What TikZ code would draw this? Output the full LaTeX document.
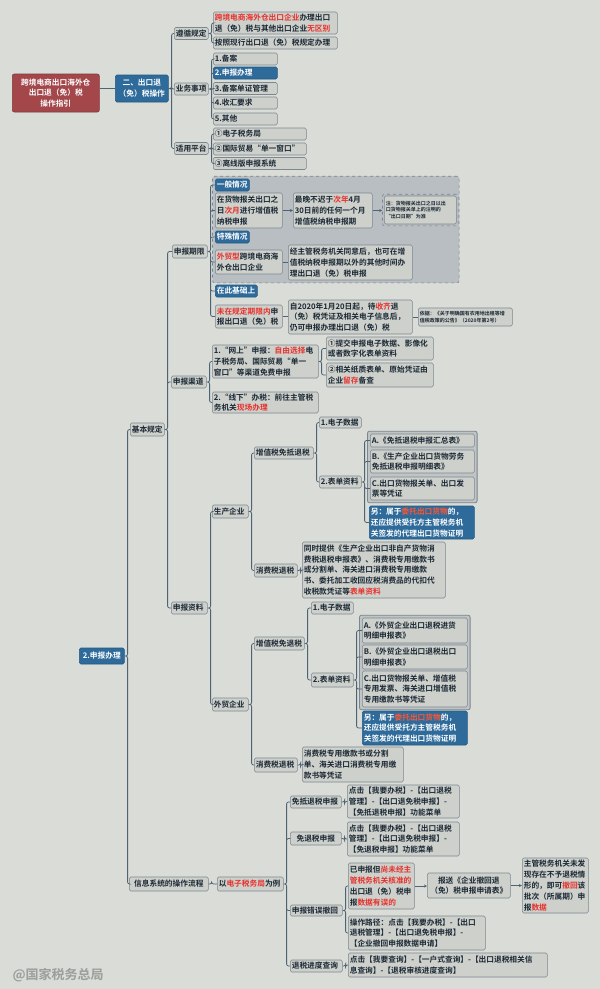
\documentclass[tikz,border=0pt]{standalone}
\usepackage{fontspec}
\setmainfont{Noto Sans CJK SC}[BoldFont={Noto Sans CJK SC Bold}]
\usetikzlibrary{arrows.meta,fit,backgrounds}
\definecolor{bgcol}{HTML}{D9DCD7}
\definecolor{boxfill}{HTML}{CED1CB}
\definecolor{boxline}{HTML}{7C8790}
\definecolor{txtcol}{HTML}{1B2835}
\definecolor{linkcol}{HTML}{4E6374}
\definecolor{tagblue}{HTML}{2E6B9B}
\definecolor{tagline}{HTML}{235A83}
\definecolor{rootred}{HTML}{A3474B}
\definecolor{panelfill}{HTML}{B8BEC2}
\definecolor{panelline}{HTML}{7D868E}
\definecolor{hired}{HTML}{E8302C}
\definecolor{hiorange}{HTML}{FF5533}
\definecolor{wmgray}{HTML}{9B9E9B}
\newcommand{\redtxt}[1]{\textcolor{hired}{#1}}
\newcommand{\orgtxt}[1]{\textcolor{hiorange}{#1}}

\begin{document}
\begin{tikzpicture}[
    x=1pt, y=-1pt,
    topic/.style={draw=boxline, fill=boxfill, text=txtcol, line width=0.6pt, rounded corners=1.5pt, inner xsep=1.5pt, inner ysep=1pt, anchor=west, align=left, font=\fontsize{7.7}{10.8}\selectfont\bfseries},
    tag/.style={topic, draw=tagline, fill=tagblue, text=white},
    rootbox/.style={topic, draw=rootred!80!black, fill=rootred, text=white, align=center, rounded corners=2pt},
    tip/.style={topic, font=\fontsize{5}{6.6}\selectfont\bfseries},
    panel/.style={draw=panelline, fill=panelfill, dashed, line width=0.6pt, rounded corners=2pt, inner sep=2.5pt},
    group/.style={draw=panelline, fill=panelfill!70!boxfill, line width=0.8pt, rounded corners=2pt, inner sep=2.5pt},
    link/.style={draw=linkcol, line width=0.8pt, rounded corners=2pt},
    flow/.style={draw=linkcol, line width=0.7pt, -{Stealth[length=3pt,width=3pt]}},
    hook/.style={to path={-- ++(3pt,0) |- (\tikztotarget)}},
    tw/.style 2 args={text width=#1, minimum height=#2}
  ]
  \useasboundingbox (0,0) rectangle (600,989);

  \node[rootbox, minimum width=87pt, minimum height=38pt] (root) at (12,93) {跨境电商出口海外仓\\出口退（免）税\\操作指引};
  \node[tag, align=center, minimum width=53pt, minimum height=27pt] (op) at (115,88.5) {二、出口退\\（免）税操作};

  \node[topic, tw={31pt}{12pt}] (zx) at (174,33.5) {遵循规定};
  \node[topic, tw={31pt}{12pt}] (yw) at (174,89) {业务事项};
  \node[topic, tw={31pt}{12pt}] (pt) at (174,148.5) {适用平台};
  \node[topic, tw={121pt}{22pt}] (zx1) at (213,23) {\redtxt{跨境电商海外仓出口企业}办理出口\\退（免）税与其他出口企业\redtxt{无区别}};
  \node[topic, tw={121pt}{12pt}] (zx2) at (213,43) {按照现行出口退（免）税规定办理};
  \node[topic, tw={61pt}{12pt}] (yw1) at (213,59) {1.备案};
  \node[tag, tw={61pt}{12pt}] (yw2) at (213,73) {2.申报办理};
  \node[topic, tw={61pt}{12pt}] (yw3) at (213,88.5) {3.备案单证管理};
  \node[topic, tw={61pt}{12pt}] (yw4) at (213,103) {4.收汇要求};
  \node[topic, tw={61pt}{12pt}] (yw5) at (213,119) {5.其他};
  \node[topic, tw={90pt}{12pt}] (pt1) at (213,134) {①电子税务局};
  \node[topic, tw={90pt}{12pt}] (pt2) at (213,149) {②国际贸易“单一窗口”};
  \node[topic, tw={90pt}{12pt}] (pt3) at (213,163.5) {③离线版申报系统};

  \node[tag, align=center, tw={42pt}{16pt}] (sbbl) at (79,656) {2.申报办理};
  \node[topic, tw={31pt}{13pt}] (jbgd) at (130,429.5) {基本规定};
  \node[topic, align=center, tw={76pt}{14pt}] (xxlc) at (129,884) {信息系统的操作流程};

  \node[topic, tw={32pt}{13pt}] (qx) at (172,251.5) {申报期限};
  \node[topic, tw={32pt}{12pt}] (qd) at (171,382) {申报渠道};
  \node[topic, tw={33pt}{12pt}] (zl) at (171,608) {申报资料};

  \node[tag, tw={31pt}{12pt}] (yb) at (215,185) {一般情况};
  \node[topic, tw={64pt}{35pt}] (yb1) at (215,210.5) {在货物报关出口之\\日\redtxt{次月}进行增值税\\纳税申报};
  \node[topic, tw={76pt}{35pt}] (yb2) at (293,210.5) {最晚不迟于\redtxt{次年}4月\\30日前的任何一个月\\增值税纳税申报期};
  \node[tip, tw={69pt}{28pt}] (yb3) at (384,210) {注：货物报关出口之日以出\\口货物报关单上的注明的\\“出口日期”为准};
  \node[tag, tw={31pt}{12pt}] (ts) at (215,237) {特殊情况};
  \node[topic, tw={64pt}{24pt}] (ts1) at (215,262) {\redtxt{外贸型}跨境电商海\\外仓出口企业};
  \node[topic, tw={121pt}{35pt}] (ts2) at (288,262.5) {经主管税务机关同意后，也可在增\\值税纳税申报期以外的其他时间办\\理出口退（免）税申报};
  \node[tag, tw={39pt}{12pt}] (jc) at (215,291) {在此基础上};
  \node[topic, tw={64pt}{23pt}] (wz1) at (215,316.5) {\redtxt{未在规定期限内}申\\报出口退（免）税};
  \node[topic, tw={121pt}{34pt}] (wz2) at (288,317) {自2020年1月20日起，待\redtxt{收齐}退\\（免）税凭证及相关电子信息后，\\仍可申报办理出口退（免）税};
  \node[tip, tw={91pt}{18pt}] (wz3) at (418,317) {依据：《关于明确国有农用地出租等增\\值税政策的公告》（2020年第2号）};

  \node[topic, tw={103pt}{33pt}] (qd1) at (212,361.5) {1.“网上”申报：\redtxt{自由选择}电\\子税务局、国际贸易“单一\\窗口”等渠道免费申报};
  \node[topic, tw={103pt}{21pt}] (qd2) at (212,402.5) {2.“线下”办税：前往主管税\\务机关\redtxt{现场办理}};
  \node[topic, tw={104pt}{23pt}] (qd1a) at (326,348.5) {①提交申报电子数据、影像化\\或者数字化表单资料};
  \node[topic, tw={104pt}{24pt}] (qd1b) at (326,375) {②相关纸质表单、原始凭证由\\企业\redtxt{留存}备查};

  \node[topic, tw={33pt}{13pt}] (sc) at (212,511.5) {生产企业};
  \node[topic, tw={33pt}{13pt}] (wm) at (212,704.5) {外贸企业};
  \node[topic, tw={56pt}{12pt}] (sc1) at (254,453) {增值税免抵退税};
  \node[topic, tw={40pt}{13pt}] (sc2) at (254,570.5) {消费税退税};
  \node[topic, tw={39pt}{11pt}] (sc1a) at (319,422.5) {1.电子数据};
  \node[topic, tw={39pt}{12pt}] (sc1b) at (319,482) {2.表单资料};
  \node[topic, tw={101pt}{13pt}] (sc1b1) at (370,440.5) {A.《免抵退税申报汇总表》};
  \node[topic, tw={101pt}{23pt}] (sc1b2) at (370,461.5) {B.《生产企业出口货物劳务\\免抵退税申报明细表》};
  \node[topic, tw={101pt}{23pt}] (sc1b3) at (370,488.5) {C.出口货物报关单、出口发\\票等凭证};
  \node[tag, tw={102pt}{33pt}] (sc1b4) at (369,522.5) {另：属于\orgtxt{委托出口货物}的，\\还应提供受托方主管税务机\\关签发的代理出口货物证明};
  \node[topic, tw={140pt}{56pt}] (sc2a) at (302,570) {同时提供《生产企业出口非自产货物消\\费税退税申报表》、消费税专用缴款书\\或分割单、海关进口消费税专用缴款\\书、委托加工收回应税消费品的代扣代\\收税款凭证等\redtxt{表单资料}};

  \node[topic, tw={47pt}{13pt}] (wm1) at (254,643.5) {增值税免退税};
  \node[topic, tw={40pt}{14pt}] (wm2) at (254,765) {消费税退税};
  \node[topic, tw={39pt}{12pt}] (wm1a) at (311,608) {1.电子数据};
  \node[topic, tw={39pt}{14pt}] (wm1b) at (311,680) {2.表单资料};
  \node[topic, tw={102pt}{25pt}] (wm1b1) at (362,630.5) {A.《外贸企业出口退税进货\\明细申报表》};
  \node[topic, tw={102pt}{24pt}] (wm1b2) at (362,657) {B.《外贸企业出口退税出口\\明细申报表》};
  \node[topic, tw={102pt}{36pt}] (wm1b3) at (362,689) {C.出口货物报关单、增值税\\专用发票、海关进口增值税\\专用缴款书等凭证};
  \node[tag, tw={102pt}{34pt}] (wm1b4) at (362,728) {另：属于\orgtxt{委托出口货物}的，\\还应提供受托方主管税务机\\关签发的代理出口货物证明};
  \node[topic, tw={98pt}{35pt}] (wm2a) at (302,764.5) {消费税专用缴款书或分割\\单、海关进口消费税专用缴\\款书等凭证};

  \node[topic, tw={63pt}{14pt}] (lz) at (217,884) {以\redtxt{电子税务局}为例};
  \node[topic, tw={48pt}{12pt}] (lz1) at (290,802) {免抵退税申报};
  \node[topic, align=center, tw={48pt}{13pt}] (lz2) at (290,838.5) {免退税申报};
  \node[topic, tw={49pt}{11pt}] (lz3) at (290,910.5) {申报错误撤回};
  \node[topic, tw={49pt}{12pt}] (lz4) at (290,966) {退税进度查询};
  \node[topic, tw={109pt}{33pt}] (lz1a) at (347,801.5) {点击【我要办税】-【出口退税\\管理】-【出口退免税申报】-\\【免抵退税申报】功能菜单};
  \node[topic, tw={109pt}{34pt}] (lz2a) at (347,839) {点击【我要办税】-【出口退税\\管理】-【出口退免税申报】-\\【免退税申报】功能菜单};
  \node[topic, tw={63pt}{46pt}] (lz3a) at (348,886) {已申报但\redtxt{尚未经主}\\\redtxt{管税务机关核准的}\\出口退（免）税申\\报\redtxt{数据有误的}};
  \node[topic, align=center, tw={80pt}{25pt}] (lz3b) at (427,885.5) {报送《企业撤回退\\（免）税申报申请表》};
  \node[topic, tw={63pt}{55pt}] (lz3c) at (522,885.5) {主管税务机关未发\\现存在不予退税情\\形的，即可\redtxt{撤回}该\\批次（所属期）申\\报\redtxt{数据}};
  \node[topic, tw={134pt}{34pt}] (lz3d) at (348,933) {操作路径：点击【我要办税】-【出口\\退税管理】-【出口退免税申报】-\\【企业撤回申报数据申请】};
  \node[topic, tw={196pt}{24pt}] (lz4a) at (348,965) {点击【我要查询】-【一户式查询】-【出口退税相关信\\息查询】-【退税审核进度查询】};

  \node[anchor=west, text=wmgray, font=\fontsize{13}{13}\selectfont\bfseries] (mark) at (9,975) {@国家税务总局};

  \begin{scope}[on background layer]
    \fill[bgcol] (0,0) rectangle (600,989);
    \node[panel, fit=(yb)(yb3)(ts2)] (qxpanel) {};
    \node[group, fit=(sc1b1)(sc1b3)] (scgroup) {};
    \node[group, fit=(wm1b1)(wm1b3)] (wmgroup) {};
    \node[draw=panelline, dashed, line width=0.6pt, rounded corners=2pt, inner sep=1.5pt, fit=(yb3)] (yb3frame) {};
  \end{scope}

  \draw[link] (op.west) -- (op.west -| root.east);
  \draw[link] (op.east) to[hook] (zx.west) (op.east) to[hook] (yw.west) (op.east) to[hook] (pt.west);
  \draw[link] (zx.east) to[hook] (zx1.west) (zx.east) to[hook] (zx2.west);
  \draw[link] (yw.east) to[hook] (yw1.west) (yw.east) to[hook] (yw2.west) (yw.east) to[hook] (yw3.west)
    (yw.east) to[hook] (yw4.west) (yw.east) to[hook] (yw5.west);
  \draw[link] (pt.east) to[hook] (pt1.west) (pt.east) to[hook] (pt2.west) (pt.east) to[hook] (pt3.west);

  \draw[link] (sbbl.east) to[hook] (jbgd.west) (sbbl.east) to[hook] (xxlc.west);
  \draw[link] (jbgd.east) to[hook] (qx.west) (jbgd.east) to[hook] (qd.west) (jbgd.east) to[hook] (zl.west);
  \draw[link] (qx.east) to[hook] (yb.west) (qx.east) to[hook] (yb1.west) (qx.east) to[hook] (ts.west)
    (qx.east) to[hook] (ts1.west) (qx.east) to[hook] (jc.west) (qx.east) to[hook] (wz1.west);
  \draw[flow] (yb1.east) -- (yb1.east -| yb2.west);
  \draw[flow] (yb2.east) -- (yb2.east -| yb3frame.west);
  \draw[link] (ts1.east) -- (ts1.east -| ts2.west);
  \draw[link] (wz1.east) -- (wz1.east -| wz2.west);
  \draw[link] (wz2.east) -- (wz2.east -| wz3.west);
  \draw[link] (qd.east) to[hook] (qd1.west) (qd.east) to[hook] (qd2.west);
  \draw[link] (qd1.east) to[hook] (qd1a.west) (qd1.east) to[hook] (qd1b.west);

  \draw[link] (zl.east) to[hook] (sc.west) (zl.east) to[hook] (wm.west);
  \draw[link] (sc.east) to[hook] (sc1.west) (sc.east) to[hook] (sc2.west);
  \draw[link] (sc1.east) to[hook] (sc1a.west) (sc1.east) to[hook] (sc1b.west);
  \draw[link] (sc1b.east) to[hook] (sc1b1.west) (sc1b.east) to[hook] (sc1b2.west)
    (sc1b.east) to[hook] (sc1b3.west) (sc1b.east) to[hook] (sc1b4.west);
  \draw[link] (sc2.east) to[hook] (sc2a.west);
  \draw[link] (wm.east) to[hook] (wm1.west) (wm.east) to[hook] (wm2.west);
  \draw[link] (wm1.east) to[hook] (wm1a.west) (wm1.east) to[hook] (wm1b.west);
  \draw[link] (wm1b.east) to[hook] (wm1b1.west) (wm1b.east) to[hook] (wm1b2.west)
    (wm1b.east) to[hook] (wm1b3.west) (wm1b.east) to[hook] (wm1b4.west);
  \draw[link] (wm2.east) to[hook] (wm2a.west);

  \draw[link] (xxlc.east) to[hook] (lz.west);
  \draw[link] (lz.east) to[hook] (lz1.west) (lz.east) to[hook] (lz2.west) (lz.east) to[hook] (lz3.west)
    (lz.east) to[hook] (lz4.west);
  \draw[link] (lz1.east) to[hook] (lz1a.west);
  \draw[link] (lz2.east) to[hook] (lz2a.west);
  \draw[link] (lz3.east) to[hook] (lz3a.west) (lz3.east) to[hook] (lz3d.west);
  \draw[flow] (lz3a.east) -- (lz3a.east -| lz3b.west);
  \draw[flow] (lz3b.east) -- (lz3b.east -| lz3c.west);
  \draw[link] (lz4.east) to[hook] (lz4a.west);

\end{tikzpicture}
\end{document}
